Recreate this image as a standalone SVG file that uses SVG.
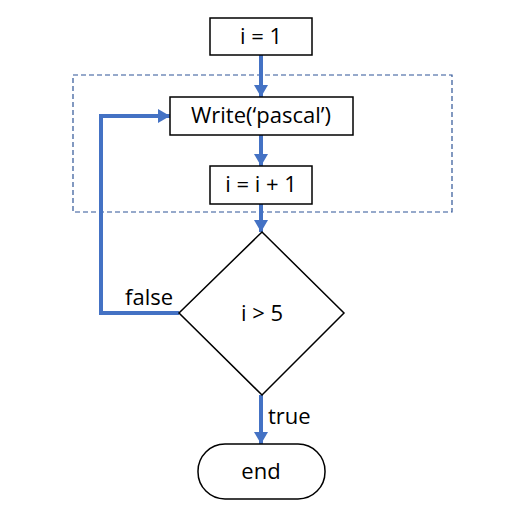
<svg xmlns="http://www.w3.org/2000/svg" width="518" height="518" viewBox="0 0 518 518">
<defs>
<style>
.box{fill:#fff;stroke:#000;stroke-width:1.5}
.t{font-family:"Open Sans","Liberation Sans",sans-serif;font-size:22px;fill:#000;text-anchor:middle}
.lbl{font-family:"Open Sans","Liberation Sans",sans-serif;font-size:22px;fill:#000}
.c{fill:none;stroke:#4472C4;stroke-width:4}
</style>
<marker id="ah" markerUnits="userSpaceOnUse" markerWidth="14" markerHeight="14" viewBox="0 0 14 14" refX="12" refY="7" orient="auto">
<path d="M0,0 L12,7 L0,14 Z" fill="#4472C4"/>
</marker>
</defs>
<rect width="518" height="518" fill="#fff"/>
<rect id="loop-region" x="73" y="75" width="379" height="137" fill="none" stroke="#2F5597" stroke-width="1.2" stroke-dasharray="5,3"/>
<g id="connectors">
<path class="c" d="M261,55 V97" marker-end="url(#ah)"/>
<path class="c" d="M261,135 V166" marker-end="url(#ah)"/>
<path class="c" d="M261,204 V232" marker-end="url(#ah)"/>
<path class="c" d="M179,313 H101 V116 H170" marker-end="url(#ah)"/>
<path class="c" d="M261,395 V444" marker-end="url(#ah)"/>
<text class="lbl" x="125" y="305">false</text>
<text class="lbl" x="268" y="424">true</text>
</g>
<g id="init">
<rect class="box" x="210" y="18" width="102" height="37"/>
<text class="t" x="261" y="44">i = 1</text>
</g>
<g id="write">
<rect class="box" x="170" y="97" width="183" height="38"/>
<text class="t" x="261" y="123">Write(‘pascal’)</text>
</g>
<g id="inc">
<rect class="box" x="210" y="166" width="102" height="38"/>
<text class="t" x="261" y="192">i = i + 1</text>
</g>
<g id="cond">
<polygon class="box" points="262,232 344,313 262,395 179,313"/>
<text class="t" x="262" y="321">i &gt; 5</text>
</g>
<g id="end">
<rect class="box" x="198" y="444" width="127" height="55" rx="27" ry="27"/>
<text class="t" x="261" y="479">end</text>
</g>
</svg>
